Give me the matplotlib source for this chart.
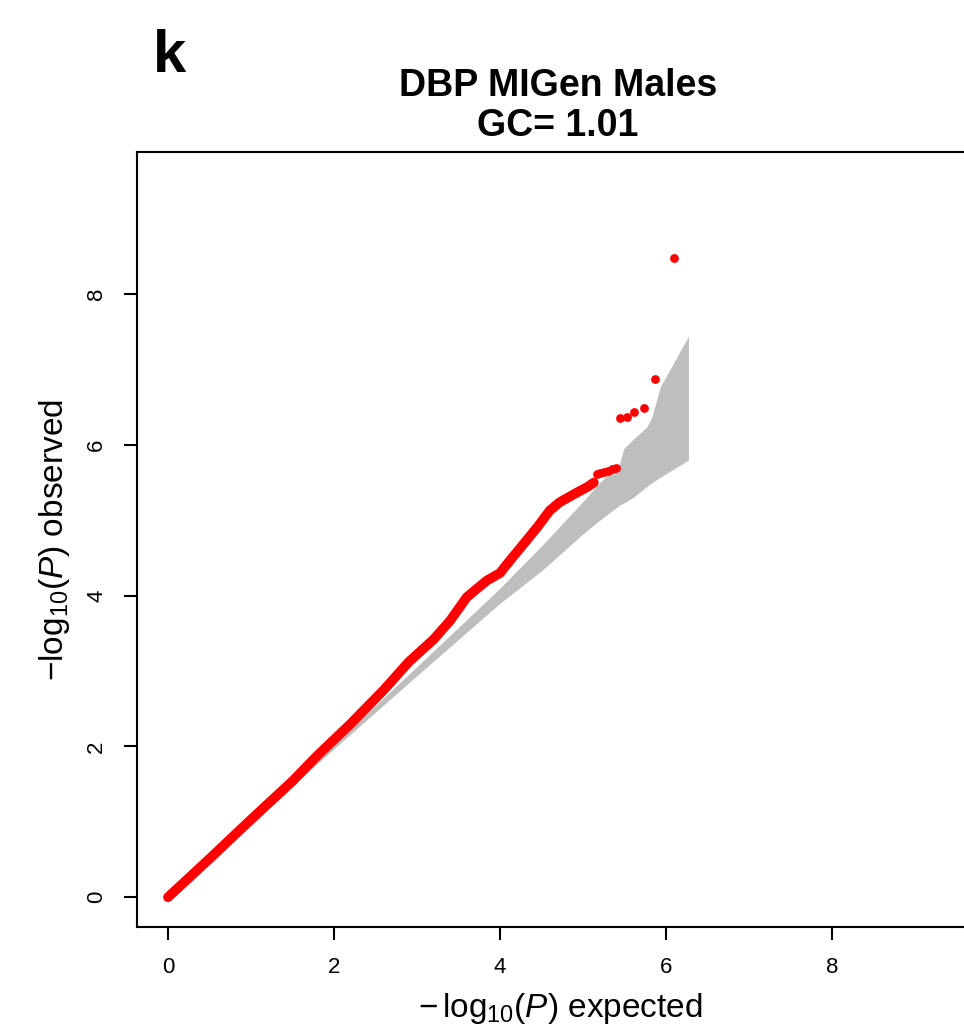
import matplotlib.pyplot as plt

# dense QQ trace (expected vs observed -log10 P)
qq_exp = [0.0, 0.5, 1.0, 1.5, 1.8, 2.2, 2.6, 2.9, 3.2, 3.4, 3.6, 3.84, 4.0,
          4.1, 4.25, 4.45, 4.6, 4.72, 4.93, 5.05, 5.13]
qq_obs = [0.0, 0.51, 1.03, 1.54, 1.88, 2.3, 2.75, 3.12, 3.42, 3.67, 3.98, 4.2,
          4.3, 4.44, 4.64, 4.91, 5.13, 5.24, 5.37, 5.44, 5.5]

# sparse top hits
tail_exp = [5.17, 5.21, 5.25, 5.3, 5.35, 5.4, 5.45, 5.53, 5.62, 5.73, 5.87, 6.10]
tail_obs = [5.62, 5.63, 5.64, 5.66, 5.68, 5.69, 6.36, 6.37, 6.43, 6.49, 6.88, 8.48]

# grey confidence band
band_x = [0.0, 1.0, 2.0, 3.0, 3.5, 4.0, 4.5, 5.0, 5.2, 5.44, 5.49, 5.6, 5.77,
          5.83, 5.93, 6.27]
band_hi = [0.0, 1.02, 2.03, 3.06, 3.58, 4.1, 4.66, 5.25, 5.5, 5.75, 5.95, 6.07,
           6.24, 6.37, 6.77, 7.44]
band_lo = [0.0, 0.98, 1.97, 2.94, 3.42, 3.9, 4.33, 4.82, 5.0, 5.2, 5.23, 5.3,
           5.45, 5.5, 5.57, 5.8]

ticks = [0, 2, 4, 6, 8]

plt.rcParams['font.family'] = ['Liberation Sans', 'DejaVu Sans']
plt.rcParams['mathtext.fontset'] = 'custom'
plt.rcParams['mathtext.rm'] = 'Liberation Sans'
plt.rcParams['mathtext.it'] = 'Liberation Sans:italic'

W, H = 964, 1034
fig = plt.figure(figsize=(W / 100, H / 100), dpi=100)
ax = fig.add_axes([137 / W, 107 / H, 842 / W, 775 / H])

ax.fill_between(band_x, band_lo, band_hi, color='#BEBEBE', lw=0, zorder=1)
ax.plot(qq_exp, qq_obs, color='#FF0000', lw=7, solid_capstyle='round',
        solid_joinstyle='round', zorder=2)
ax.scatter(tail_exp, tail_obs, s=40, color='#FF0000', lw=0, zorder=3)

ax.set_xlim(-0.373, 9.77)
ax.set_ylim(-0.395, 9.885)
ax.set_xticks(ticks)
ax.set_yticks(ticks)
ax.tick_params(length=9.5, width=1.5, pad=12)
for lab in ax.get_xticklabels():
    lab.set_fontsize(16)
for lab in ax.get_yticklabels():
    lab.set_fontsize(16)
    lab.set_rotation(90)
    lab.set_va('center')
for sp in ax.spines.values():
    sp.set_linewidth(1.5)

# titles and labels
fig.text(153 / W, 1 - 72 / H, 'k', fontsize=43, fontweight='bold', va='baseline')
fig.text(558 / W, 1 - 96 / H, 'DBP MIGen Males', fontsize=27, fontweight='bold',
         ha='center', va='baseline')
fig.text(558 / W, 1 - 136 / H, 'GC= 1.01', fontsize=27, fontweight='bold',
         ha='center', va='baseline')
fig.text(560 / W, 1 - 1017 / H, r'$-\,\log_{10}\!(P)$ expected', fontsize=24,
         ha='center', va='baseline')
fig.text(54 / W, 1 - 540 / H, r'$-\log_{10}\!(P)$ observed', fontsize=24,
         rotation=90, ha='center', va='center')

fig.savefig('out.png', dpi=100)
